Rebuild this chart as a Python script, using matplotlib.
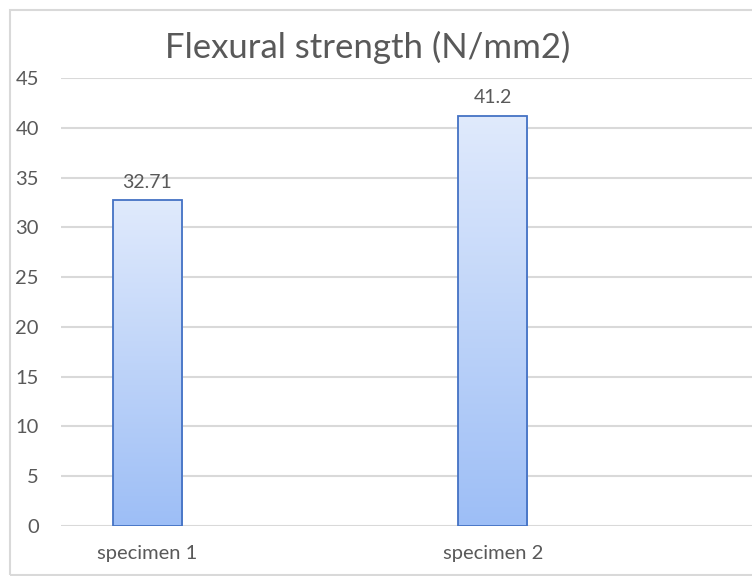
import numpy as np
import matplotlib.pyplot as plt
from matplotlib.patches import Rectangle
from matplotlib.colors import LinearSegmentedColormap

plt.rcParams['font.family'] = ['Lato', 'DejaVu Sans']

# chart data
categories = ['specimen 1', 'specimen 2']
strength = [32.71, 41.2]
value_labels = ['32.71', '41.2']
y_ticks = [0, 5, 10, 15, 20, 25, 30, 35, 40, 45]

text_grey = '#595959'
grid_grey = '#d9d9d9'

fig = plt.figure(figsize=(7.52, 5.76), dpi=100)
ax = fig.add_axes([61 / 752, 1 - 526 / 576, 1 - 61 / 752, (526 - 78) / 576])

x = np.arange(len(categories))
bars = ax.bar(x, strength, width=0.2, facecolor='none', edgecolor='#4472c4',
              linewidth=1.3, zorder=3)

# vertical gradient fill, light at top, darker at bottom
grad = np.linspace(0, 1, 256).reshape(-1, 1)
cmap = LinearSegmentedColormap.from_list('bar', ['#9dbef6', '#e0eafc'])
for b in bars:
    x0, y0 = b.get_x(), b.get_y()
    w, h = b.get_width(), b.get_height()
    im = ax.imshow(grad, extent=[x0, x0 + w, y0, y0 + h], origin='lower',
                   cmap=cmap, aspect='auto', zorder=2)
    im.set_clip_path(b)

for xi, v, lab in zip(x, strength, value_labels):
    ax.annotate(lab, (xi, v), xytext=(0, 7), textcoords='offset points',
                ha='center', va='bottom', fontsize=14, color=text_grey)

ax.set_xlim(-0.25, 1.75)
ax.set_ylim(0, 45)
ax.set_yticks(y_ticks)
ax.set_xticks(x)
ax.set_xticklabels(categories)
ax.tick_params(axis='both', length=0, labelsize=14.5, labelcolor=text_grey)
ax.tick_params(axis='y', pad=16)
ax.tick_params(axis='x', pad=14)
ax.grid(axis='y', color=grid_grey, linewidth=1.5, zorder=0)
ax.set_axisbelow(True)
for s in ax.spines.values():
    s.set_visible(False)

fig.text(368 / 752, 1 - 47 / 576, 'Flexural strength (N/mm2)', ha='center',
         va='center', fontsize=25, color=text_grey)

# outer chart border
fig.patches.append(Rectangle((10 / 752, 1 / 576), 1.0, 1 - 11 / 576,
                             transform=fig.transFigure, fill=False,
                             edgecolor=grid_grey, linewidth=1.5))

plt.savefig('out.png', dpi=100)
